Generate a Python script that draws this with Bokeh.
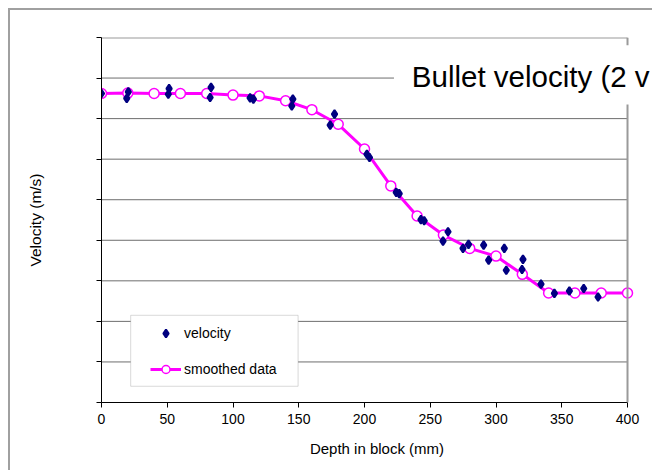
from bokeh.plotting import figure
from bokeh.models import (Range1d, FixedTicker, Legend, LegendItem, Label,
                          BoxAnnotation, ColumnDataSource, Span, InlineStyleSheet)
from bokeh.embed import file_html
from bokeh.resources import INLINE

# ---- data ----
depth_raw = [0, 20.4, 19.2, 51.4, 50.8, 83.3, 82.6, 113.0, 115.5, 145.5, 144.7,
             177.2, 173.9, 201.8, 203.8, 224.1, 226.4, 242.9, 245.4, 263.5, 259.7,
             274.9, 279.1, 290.6, 294.4, 306.3, 307.8, 320.5, 319.8, 334.2, 344.4,
             355.8, 366.7, 377.6]
velocity = [762, 766, 750, 774, 760, 777, 752, 751, 748, 748, 731,
            711, 684, 612, 604, 518, 515, 451, 448, 421, 398,
            380, 390, 388, 351, 380, 326, 353, 328, 292, 269,
            275, 281, 260]

depth_smooth = [0, 20, 40, 60, 80, 100, 120, 140, 160, 180, 200,
                220, 240, 260, 280, 300, 320, 340, 360, 380, 400]
smoothed = [762, 763, 762, 762, 762, 758, 756, 744, 722, 686, 625,
            534, 460, 413, 380, 361, 316, 270, 270, 270, 270]

x_ticks = [0, 50, 100, 150, 200, 250, 300, 350, 400]
y_ticks = [0, 100, 200, 300, 400, 500, 600, 700, 800, 900]
x_min, x_max = 0, 400
y_min, y_max = 0, 900

FONT = "Liberation Sans"
GRID = "#6e6e6e"
FRAME_GREY = "#9a9a9a"

# frame is widened to the window edge so the large title is not cut at the plot border
p = figure(width=652, height=470, output_backend="svg", toolbar_location=None,
           x_range=Range1d(x_min, 419.0), y_range=Range1d(y_min, y_max),
           min_border_left=101, min_border_right=0,
           min_border_top=37, min_border_bottom=68)
p.background_fill_color = "white"
p.border_fill_color = "white"
p.outline_line_color = None

# outer chart border (left and top edges visible in the window)
p.stylesheets = [InlineStyleSheet(css=(
    ":host::after { content: ''; position: absolute; left: 8px; top: 8px; "
    "width: 644px; height: 462px; border-left: 2px solid #a0a0a0; "
    "border-top: 2px solid #a0a0a0; box-sizing: border-box; pointer-events: none; "
    "z-index: 10; }"))]

# axes
p.xaxis.ticker = FixedTicker(ticks=x_ticks)
p.yaxis.ticker = FixedTicker(ticks=y_ticks)
p.xaxis.bounds = (x_min, x_max)
for ax in (p.xaxis[0], p.yaxis[0]):
    ax.axis_line_color = "black"
    ax.axis_line_width = 1
    ax.major_tick_line_color = "black"
    ax.major_tick_in = 0
    ax.major_tick_out = 5
    ax.minor_tick_line_color = None
    ax.major_label_text_font = FONT
    ax.major_label_text_font_size = "14px"
    ax.major_label_text_color = "black"
    ax.axis_label_text_font = FONT
    ax.axis_label_text_font_size = "15px"
    ax.axis_label_text_font_style = "normal"
    ax.axis_label_text_color = "black"

p.xaxis.axis_label = "Depth in block (mm)"
p.xaxis.major_label_standoff = 6
p.xaxis.axis_label_standoff = 13

p.yaxis.axis_label = "Velocity (m/s)"
p.yaxis.axis_label_text_font_size = "15.5px"
p.yaxis.major_label_overrides = {t: "" for t in y_ticks}
p.yaxis.major_label_standoff = 0
p.yaxis.axis_label_standoff = 53

# horizontal gridlines only across the plot area 0..400
p.xgrid.grid_line_color = None
p.ygrid.grid_line_color = None
inner = y_ticks[1:-1]
p.segment(x0=[x_min] * len(inner), x1=[x_max] * len(inner), y0=inner, y1=inner,
          line_color=GRID, line_width=1)
p.segment(x0=[x_min], x1=[x_max], y0=[y_max], y1=[y_max],
          line_color=FRAME_GREY, line_width=2)
p.add_layout(Span(location=x_max, dimension="height",
                  line_color=FRAME_GREY, line_width=2))

# series
src_v = ColumnDataSource(dict(x=depth_raw, y=velocity))
src_s = ColumnDataSource(dict(x=depth_smooth, y=smoothed))

ln = p.line("x", "y", source=src_s, line_color="#ff00ff", line_width=3)
cr = p.scatter("x", "y", source=src_s, marker="circle", size=10,
               fill_color="white", line_color="#ff00ff", line_width=1.5)
dm = p.scatter("x", "y", source=src_v, marker="diamond", size=8,
               fill_color="#000080", line_color="#000080", line_width=2)

# legend box + legend
lbox = BoxAnnotation(left=22.2, right=149.5, bottom=40, top=215,
                     fill_color="white", fill_alpha=1,
                     line_color="#808080", line_width=1)
p.add_layout(lbox)

legend = Legend(items=[LegendItem(label="velocity", renderers=[dm]),
                       LegendItem(label="smoothed data", renderers=[ln, cr])],
                location=(49, 23), padding=0, spacing=16,
                glyph_width=31, glyph_height=20, label_standoff=3,
                label_text_font=FONT, label_text_font_size="14px",
                label_text_color="black",
                border_line_color=None, background_fill_alpha=0)
p.add_layout(legend)

# title (large, overlapping the plot, cut by the window edge) on a white box
tbox = BoxAnnotation(left=222.4, right=419.0, bottom=735, top=881,
                     fill_color="white", fill_alpha=1, line_color=None)
p.add_layout(tbox)
title = Label(x=236.0, y=803, text="Bullet velocity (2 v",
              text_font=FONT, text_font_size="29.5px", text_color="black",
              text_baseline="alphabetic", text_align="left")
p.add_layout(title)

open("out.html", "w").write(file_html(p, INLINE))
